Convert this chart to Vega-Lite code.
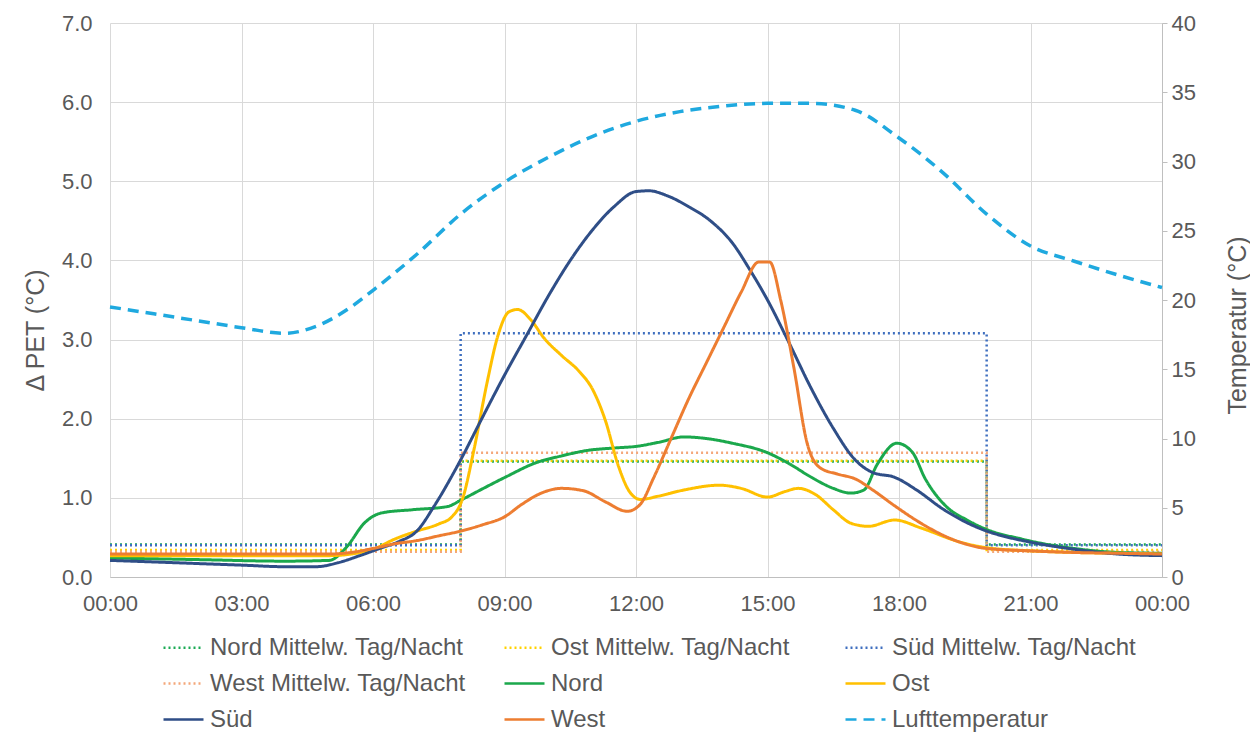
{
  "$schema": "https://vega.github.io/schema/vega-lite/v6.json",
  "width": 1052,
  "height": 554,
  "autosize": {"type": "none"},
  "padding": {"left": 110, "top": 23, "right": 88, "bottom": 161},
  "background": "white",
  "config": {
    "view": {"stroke": null},
    "font": "Liberation Sans",
    "axis": {"labelFont": "Liberation Sans", "titleFont": "Liberation Sans", "labelColor": "#595959", "titleColor": "#595959", "labelFontSize": 22, "titleFontSize": 25, "titleFontWeight": "normal", "gridColor": "#D9D9D9", "gridWidth": 1, "domainColor": "#BFBFBF", "tickColor": "#BFBFBF"},
    "legend": {"labelFont": "Liberation Sans", "labelColor": "#595959", "labelFontSize": 24}
  },
  "datasets": {
    "mean": [
      {"h": 0, "s": "Nord Mittelw. Tag/Nacht", "v": 0.41}, {"h": 8, "s": "Nord Mittelw. Tag/Nacht", "v": 1.46}, {"h": 20, "s": "Nord Mittelw. Tag/Nacht", "v": 0.41}, {"h": 24, "s": "Nord Mittelw. Tag/Nacht", "v": 0.41},
      {"h": 0, "s": "Ost Mittelw. Tag/Nacht", "v": 0.34}, {"h": 8, "s": "Ost Mittelw. Tag/Nacht", "v": 1.47}, {"h": 20, "s": "Ost Mittelw. Tag/Nacht", "v": 0.34}, {"h": 24, "s": "Ost Mittelw. Tag/Nacht", "v": 0.34},
      {"h": 0, "s": "Süd Mittelw. Tag/Nacht", "v": 0.4}, {"h": 8, "s": "Süd Mittelw. Tag/Nacht", "v": 3.08}, {"h": 20, "s": "Süd Mittelw. Tag/Nacht", "v": 0.4}, {"h": 24, "s": "Süd Mittelw. Tag/Nacht", "v": 0.4},
      {"h": 0, "s": "West Mittelw. Tag/Nacht", "v": 0.32}, {"h": 8, "s": "West Mittelw. Tag/Nacht", "v": 1.57}, {"h": 20, "s": "West Mittelw. Tag/Nacht", "v": 0.32}, {"h": 24, "s": "West Mittelw. Tag/Nacht", "v": 0.32}
    ],
    "pet": [
      {"h": 0, "s": "Nord", "v": 0.24}, {"h": 2, "s": "Nord", "v": 0.22}, {"h": 4, "s": "Nord", "v": 0.2}, {"h": 5, "s": "Nord", "v": 0.21}, {"h": 5.4, "s": "Nord", "v": 0.38}, {"h": 5.8, "s": "Nord", "v": 0.68}, {"h": 6.2, "s": "Nord", "v": 0.81}, {"h": 6.9, "s": "Nord", "v": 0.85}, {"h": 7.7, "s": "Nord", "v": 0.89}, {"h": 8, "s": "Nord", "v": 0.97}, {"h": 8.45, "s": "Nord", "v": 1.1}, {"h": 9.05, "s": "Nord", "v": 1.27}, {"h": 9.7, "s": "Nord", "v": 1.44}, {"h": 10.3, "s": "Nord", "v": 1.53}, {"h": 10.9, "s": "Nord", "v": 1.6}, {"h": 11.5, "s": "Nord", "v": 1.63}, {"h": 12, "s": "Nord", "v": 1.65}, {"h": 12.5, "s": "Nord", "v": 1.7}, {"h": 13.1, "s": "Nord", "v": 1.77}, {"h": 13.6, "s": "Nord", "v": 1.75}, {"h": 14.2, "s": "Nord", "v": 1.69}, {"h": 15, "s": "Nord", "v": 1.57}, {"h": 15.5, "s": "Nord", "v": 1.43}, {"h": 16, "s": "Nord", "v": 1.26}, {"h": 16.5, "s": "Nord", "v": 1.12}, {"h": 16.9, "s": "Nord", "v": 1.06}, {"h": 17.2, "s": "Nord", "v": 1.1}, {"h": 17.5, "s": "Nord", "v": 1.42}, {"h": 17.95, "s": "Nord", "v": 1.69}, {"h": 18.3, "s": "Nord", "v": 1.58}, {"h": 18.6, "s": "Nord", "v": 1.24}, {"h": 19.1, "s": "Nord", "v": 0.88}, {"h": 19.55, "s": "Nord", "v": 0.72}, {"h": 20, "s": "Nord", "v": 0.6}, {"h": 20.8, "s": "Nord", "v": 0.48}, {"h": 21.5, "s": "Nord", "v": 0.4}, {"h": 22, "s": "Nord", "v": 0.36}, {"h": 23, "s": "Nord", "v": 0.31}, {"h": 24, "s": "Nord", "v": 0.3},
      {"h": 0, "s": "Ost", "v": 0.27}, {"h": 2, "s": "Ost", "v": 0.27}, {"h": 4, "s": "Ost", "v": 0.27}, {"h": 5, "s": "Ost", "v": 0.27}, {"h": 5.5, "s": "Ost", "v": 0.29}, {"h": 6, "s": "Ost", "v": 0.35}, {"h": 6.5, "s": "Ost", "v": 0.48}, {"h": 7, "s": "Ost", "v": 0.58}, {"h": 7.5, "s": "Ost", "v": 0.67}, {"h": 7.8, "s": "Ost", "v": 0.76}, {"h": 8.05, "s": "Ost", "v": 1.0}, {"h": 8.3, "s": "Ost", "v": 1.6}, {"h": 8.6, "s": "Ost", "v": 2.45}, {"h": 8.85, "s": "Ost", "v": 3.05}, {"h": 9.1, "s": "Ost", "v": 3.35}, {"h": 9.3, "s": "Ost", "v": 3.38}, {"h": 9.6, "s": "Ost", "v": 3.25}, {"h": 9.9, "s": "Ost", "v": 3.02}, {"h": 10.3, "s": "Ost", "v": 2.8}, {"h": 10.7, "s": "Ost", "v": 2.6}, {"h": 11, "s": "Ost", "v": 2.38}, {"h": 11.3, "s": "Ost", "v": 1.98}, {"h": 11.6, "s": "Ost", "v": 1.4}, {"h": 11.85, "s": "Ost", "v": 1.08}, {"h": 12.1, "s": "Ost", "v": 0.98}, {"h": 12.5, "s": "Ost", "v": 1.02}, {"h": 13.1, "s": "Ost", "v": 1.1}, {"h": 13.9, "s": "Ost", "v": 1.16}, {"h": 14.4, "s": "Ost", "v": 1.12}, {"h": 15, "s": "Ost", "v": 1.01}, {"h": 15.4, "s": "Ost", "v": 1.08}, {"h": 15.7, "s": "Ost", "v": 1.12}, {"h": 16.1, "s": "Ost", "v": 1.04}, {"h": 16.5, "s": "Ost", "v": 0.85}, {"h": 16.9, "s": "Ost", "v": 0.68}, {"h": 17.3, "s": "Ost", "v": 0.64}, {"h": 17.9, "s": "Ost", "v": 0.72}, {"h": 18.5, "s": "Ost", "v": 0.62}, {"h": 19.4, "s": "Ost", "v": 0.44}, {"h": 20, "s": "Ost", "v": 0.37}, {"h": 21, "s": "Ost", "v": 0.33}, {"h": 22, "s": "Ost", "v": 0.31}, {"h": 23, "s": "Ost", "v": 0.3}, {"h": 24, "s": "Ost", "v": 0.29},
      {"h": 0, "s": "Süd", "v": 0.21}, {"h": 1, "s": "Süd", "v": 0.19}, {"h": 2, "s": "Süd", "v": 0.17}, {"h": 3, "s": "Süd", "v": 0.15}, {"h": 4, "s": "Süd", "v": 0.13}, {"h": 4.7, "s": "Süd", "v": 0.13}, {"h": 5.2, "s": "Süd", "v": 0.18}, {"h": 5.7, "s": "Süd", "v": 0.27}, {"h": 6.2, "s": "Süd", "v": 0.37}, {"h": 6.6, "s": "Süd", "v": 0.45}, {"h": 7, "s": "Süd", "v": 0.58}, {"h": 7.4, "s": "Süd", "v": 0.9}, {"h": 8, "s": "Süd", "v": 1.48}, {"h": 8.5, "s": "Süd", "v": 2.02}, {"h": 9, "s": "Süd", "v": 2.55}, {"h": 9.5, "s": "Süd", "v": 3.05}, {"h": 10, "s": "Süd", "v": 3.55}, {"h": 10.5, "s": "Süd", "v": 4.0}, {"h": 11, "s": "Süd", "v": 4.38}, {"h": 11.5, "s": "Süd", "v": 4.68}, {"h": 12, "s": "Süd", "v": 4.87}, {"h": 12.3, "s": "Süd", "v": 4.88}, {"h": 12.7, "s": "Süd", "v": 4.82}, {"h": 13.2, "s": "Süd", "v": 4.68}, {"h": 13.7, "s": "Süd", "v": 4.5}, {"h": 14.2, "s": "Süd", "v": 4.22}, {"h": 14.6, "s": "Süd", "v": 3.88}, {"h": 15, "s": "Süd", "v": 3.5}, {"h": 15.5, "s": "Süd", "v": 2.95}, {"h": 16, "s": "Süd", "v": 2.38}, {"h": 16.5, "s": "Süd", "v": 1.88}, {"h": 17, "s": "Süd", "v": 1.48}, {"h": 17.4, "s": "Süd", "v": 1.32}, {"h": 17.9, "s": "Süd", "v": 1.26}, {"h": 18.4, "s": "Süd", "v": 1.1}, {"h": 19, "s": "Süd", "v": 0.86}, {"h": 19.5, "s": "Süd", "v": 0.7}, {"h": 20, "s": "Süd", "v": 0.58}, {"h": 20.5, "s": "Süd", "v": 0.5}, {"h": 21, "s": "Süd", "v": 0.44}, {"h": 22, "s": "Süd", "v": 0.35}, {"h": 23, "s": "Süd", "v": 0.29}, {"h": 24, "s": "Süd", "v": 0.27},
      {"h": 0, "s": "West", "v": 0.29}, {"h": 3, "s": "West", "v": 0.29}, {"h": 5, "s": "West", "v": 0.29}, {"h": 5.5, "s": "West", "v": 0.31}, {"h": 6, "s": "West", "v": 0.36}, {"h": 6.5, "s": "West", "v": 0.42}, {"h": 7, "s": "West", "v": 0.46}, {"h": 7.5, "s": "West", "v": 0.52}, {"h": 8, "s": "West", "v": 0.58}, {"h": 8.5, "s": "West", "v": 0.66}, {"h": 9, "s": "West", "v": 0.76}, {"h": 9.4, "s": "West", "v": 0.92}, {"h": 9.8, "s": "West", "v": 1.05}, {"h": 10.3, "s": "West", "v": 1.12}, {"h": 10.8, "s": "West", "v": 1.09}, {"h": 11.3, "s": "West", "v": 0.95}, {"h": 11.8, "s": "West", "v": 0.83}, {"h": 12.1, "s": "West", "v": 0.92}, {"h": 12.4, "s": "West", "v": 1.25}, {"h": 12.8, "s": "West", "v": 1.75}, {"h": 13.2, "s": "West", "v": 2.25}, {"h": 13.6, "s": "West", "v": 2.7}, {"h": 14, "s": "West", "v": 3.15}, {"h": 14.4, "s": "West", "v": 3.6}, {"h": 14.8, "s": "West", "v": 3.98}, {"h": 15.05, "s": "West", "v": 3.98}, {"h": 15.3, "s": "West", "v": 3.5}, {"h": 15.6, "s": "West", "v": 2.65}, {"h": 15.9, "s": "West", "v": 1.7}, {"h": 16.2, "s": "West", "v": 1.38}, {"h": 16.6, "s": "West", "v": 1.3}, {"h": 17, "s": "West", "v": 1.24}, {"h": 17.4, "s": "West", "v": 1.1}, {"h": 17.9, "s": "West", "v": 0.9}, {"h": 18.5, "s": "West", "v": 0.68}, {"h": 19.2, "s": "West", "v": 0.48}, {"h": 20, "s": "West", "v": 0.36}, {"h": 21, "s": "West", "v": 0.33}, {"h": 22, "s": "West", "v": 0.31}, {"h": 23, "s": "West", "v": 0.3}, {"h": 24, "s": "West", "v": 0.29}
    ],
    "temp": [
      {"h": 0, "s": "Lufttemperatur", "t": 19.5}, {"h": 1, "s": "Lufttemperatur", "t": 19.0}, {"h": 2, "s": "Lufttemperatur", "t": 18.5}, {"h": 3, "s": "Lufttemperatur", "t": 18.0}, {"h": 4, "s": "Lufttemperatur", "t": 17.6}, {"h": 4.7, "s": "Lufttemperatur", "t": 18.1}, {"h": 5.5, "s": "Lufttemperatur", "t": 19.5}, {"h": 6, "s": "Lufttemperatur", "t": 20.7}, {"h": 7, "s": "Lufttemperatur", "t": 23.3}, {"h": 8, "s": "Lufttemperatur", "t": 26.2}, {"h": 9, "s": "Lufttemperatur", "t": 28.5}, {"h": 10, "s": "Lufttemperatur", "t": 30.3}, {"h": 11, "s": "Lufttemperatur", "t": 31.8}, {"h": 12, "s": "Lufttemperatur", "t": 32.9}, {"h": 13, "s": "Lufttemperatur", "t": 33.6}, {"h": 14, "s": "Lufttemperatur", "t": 34.0}, {"h": 15, "s": "Lufttemperatur", "t": 34.2}, {"h": 16, "s": "Lufttemperatur", "t": 34.2}, {"h": 17, "s": "Lufttemperatur", "t": 33.7}, {"h": 18, "s": "Lufttemperatur", "t": 31.7}, {"h": 19, "s": "Lufttemperatur", "t": 29.2}, {"h": 20, "s": "Lufttemperatur", "t": 26.2}, {"h": 21, "s": "Lufttemperatur", "t": 23.9}, {"h": 22, "s": "Lufttemperatur", "t": 22.8}, {"h": 23, "s": "Lufttemperatur", "t": 21.8}, {"h": 24, "s": "Lufttemperatur", "t": 20.9}
    ]
  },
  "encoding": {
    "x": {"field": "h", "type": "quantitative", "scale": {"domain": [0, 24], "nice": false, "zero": false},
      "axis": {"title": null, "values": [0, 3, 6, 9, 12, 15, 18, 21, 24], "labelExpr": "datum.value == 24 ? '00:00' : (datum.value < 10 ? '0' : '') + datum.value + ':00'", "grid": true, "ticks": false, "tickSize": 0, "labelPadding": 16, "domain": true, "labelFlush": false}},
    "color": {"field": "s", "type": "nominal",
      "scale": {"domain": ["Nord Mittelw. Tag/Nacht", "West Mittelw. Tag/Nacht", "Süd", "Ost Mittelw. Tag/Nacht", "Nord", "West", "Süd Mittelw. Tag/Nacht", "Ost", "Lufttemperatur"],
        "range": ["#1BAA55", "#F4A77A", "#2F4E87", "#FFD200", "#1BA84C", "#ED7D31", "#3F6FBF", "#FFC000", "#1FA9DF"]},
      "legend": {"title": null, "orient": "none", "legendX": 52, "legendY": 603, "columns": 3, "gridAlign": "all", "columnPadding": 33, "rowPadding": 2, "symbolType": "stroke", "symbolSize": 1600, "symbolStrokeWidth": 2.5, "labelFontSize": 24, "labelLimit": 400, "padding": 0, "labelOffset": 5}},
    "strokeDash": {"field": "s", "type": "nominal",
      "scale": {"domain": ["Nord Mittelw. Tag/Nacht", "West Mittelw. Tag/Nacht", "Süd", "Ost Mittelw. Tag/Nacht", "Nord", "West", "Süd Mittelw. Tag/Nacht", "Ost", "Lufttemperatur"],
        "range": [[2, 3], [2, 3], [1, 0], [2, 3], [1, 0], [1, 0], [2, 3], [1, 0], [11, 7]]},
      "legend": {"title": null, "orient": "none", "legendX": 52, "legendY": 603, "columns": 3, "gridAlign": "all", "columnPadding": 33, "rowPadding": 2, "symbolType": "stroke", "symbolSize": 1600, "symbolStrokeWidth": 2.5, "labelFontSize": 24, "labelLimit": 400, "padding": 0, "labelOffset": 5}}
  },
  "layer": [
    {
      "encoding": {
        "y": {"field": "v", "type": "quantitative", "scale": {"domain": [0, 7], "nice": false},
          "axis": {"title": "Δ PET (°C)", "values": [0, 1, 2, 3, 4, 5, 6, 7], "format": ".1f", "grid": true, "ticks": false, "tickSize": 0, "domain": false, "labelPadding": 18, "titleAngle": -90, "titleX": -75, "titleY": 307, "titleAlign": "center", "titleBaseline": "middle"}}
      },
      "layer": [
        {"data": {"name": "mean"}, "mark": {"type": "line", "interpolate": "step-after", "strokeWidth": 2.5, "strokeCap": "butt"}},
        {"data": {"name": "pet"}, "mark": {"type": "line", "interpolate": "monotone", "strokeWidth": 3}}
      ]
    },
    {
      "data": {"name": "temp"},
      "mark": {"type": "line", "interpolate": "monotone", "strokeWidth": 3.5},
      "encoding": {
        "y": {"field": "t", "type": "quantitative", "scale": {"domain": [0, 40], "nice": false},
          "axis": {"orient": "right", "title": "Temperatur (°C)", "values": [0, 5, 10, 15, 20, 25, 30, 35, 40], "grid": false, "ticks": true, "tickSize": 5, "domain": true, "labelPadding": 4, "titleAngle": -90, "titleX": 75, "titleY": 302, "titleAlign": "center", "titleBaseline": "middle"}}
      }
    }
  ],
  "resolve": {"scale": {"y": "independent"}}
}
